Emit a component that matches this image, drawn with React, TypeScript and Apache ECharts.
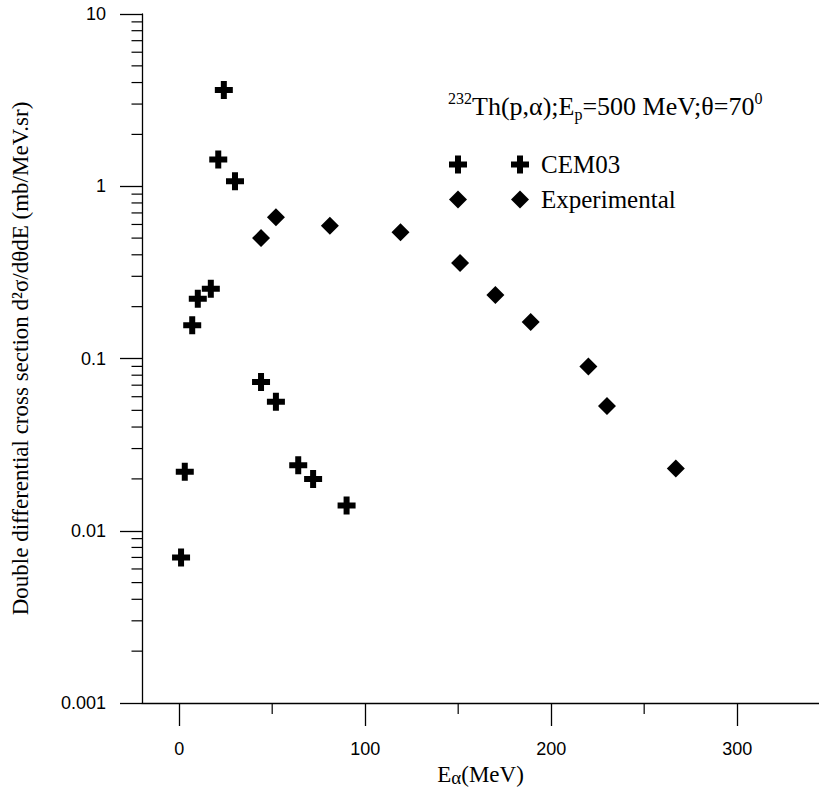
import React, { useEffect, useRef } from 'react';
import * as echarts from 'echarts';

// CEM03 calculation (E_alpha in MeV, cross section in mb/MeV.sr)
const cemEnergy = [1, 3, 7, 10, 17, 21, 24, 30, 44, 52, 64, 72, 90];
const cemSigma = [0.007, 0.022, 0.156, 0.222, 0.254, 1.43, 3.62, 1.07, 0.073, 0.056, 0.024, 0.020, 0.014];

// Experimental data
const expEnergy = [44, 52, 81, 119, 151, 170, 189, 220, 230, 267];
const expSigma = [0.50, 0.66, 0.59, 0.54, 0.358, 0.234, 0.163, 0.090, 0.053, 0.023];

// Axis ticks
const xMajorTicks = [0, 100, 200, 300];
const xMinorTicks = [50, 150, 250];
const yDecades = [0.001, 0.01, 0.1, 1];
const yMinorMultipliers = [2, 3, 4, 5, 6, 7, 8, 9];

const X_MIN = -20;
const X_MAX = 344;
const Y_MIN = 0.001;
const Y_MAX = 10;

const CROSS = 'path://M6,0H12V6H18V12H12V18H6V12H0V6H6Z';
const SERIF = "'Liberation Serif', 'Times New Roman', serif";
const SANS = "'Liberation Sans', Arial, sans-serif";

export default function App() {
  const ref = useRef<HTMLDivElement>(null);

  useEffect(() => {
    if (!ref.current) return;
    const chart = echarts.init(ref.current, undefined, { renderer: 'svg' });

    const yMinor: number[][] = [];
    yDecades.forEach((d) => yMinorMultipliers.forEach((m) => yMinor.push([X_MIN, Number((d * m).toPrecision(3))])));
    const xMinor = xMinorTicks.map((v) => [v, Y_MIN]);

    const legendCommon = {
      orient: 'vertical',
      top: 152,
      padding: 0,
      itemWidth: 18,
      itemHeight: 18,
      itemGap: 10,
      selectedMode: false,
      inactiveColor: '#000',
      data: [
        { name: 'CEM03', icon: CROSS },
        { name: 'Experimental', icon: 'diamond' },
      ],
    };

    const txt = (size: number, extra: any = {}) => ({
      fontSize: size,
      fontFamily: SERIF,
      fontWeight: 'normal',
      color: '#000',
      ...extra,
    });

    chart.setOption({
      animation: false,
      backgroundColor: '#ffffff',
      title: {
        left: 448,
        top: 90,
        padding: 0,
        text: '{sup|232}{n|Th(p,α);E}{sub|p}{n|=500 MeV;θ=70}{sup|0}',
        textStyle: {
          fontWeight: 'normal',
          color: '#000',
          rich: {
            n: txt(26, { lineHeight: 32, verticalAlign: 'middle' }),
            sup: txt(16, { lineHeight: 16, verticalAlign: 'top' }),
            sub: txt(16, { lineHeight: 14, verticalAlign: 'bottom' }),
          },
        },
      },
      legend: [
        {
          ...legendCommon,
          left: 511,
          textStyle: txt(25, { lineHeight: 25, padding: [0, 0, 0, 7] }),
        },
        {
          ...legendCommon,
          left: 449,
          formatter: () => ' ',
          textStyle: txt(25, { lineHeight: 25 }),
        },
      ],
      grid: { left: 142, top: 14, right: 0, bottom: 86, outerBoundsMode: 'none', containLabel: false },
      xAxis: {
        type: 'value',
        min: X_MIN,
        max: X_MAX,
        name: '{n|E}{sub|α}{n|(MeV)}',
        nameLocation: 'middle',
        nameGap: 55,
        nameTextStyle: {
          rich: {
            n: txt(23, { lineHeight: 26, verticalAlign: 'middle' }),
            sub: txt(19, { lineHeight: 12, verticalAlign: 'bottom' }),
          },
        },
        axisLine: { show: true, onZero: false, lineStyle: { color: '#000', width: 1.3 } },
        axisTick: { show: true, length: 23, customValues: xMajorTicks, lineStyle: { color: '#000', width: 1.3 } },
        axisLabel: {
          customValues: xMajorTicks,
          margin: 37,
          fontSize: 18,
          fontFamily: SANS,
          color: '#000',
        },
        splitLine: { show: false },
      },
      yAxis: {
        type: 'log',
        logBase: 10,
        min: Y_MIN,
        max: Y_MAX,
        name: 'Double differential cross section d²σ/dθdE (mb/MeV.sr)',
        nameLocation: 'middle',
        nameGap: 110,
        nameTextStyle: txt(23),
        axisLine: { show: true, onZero: false, lineStyle: { color: '#000', width: 1.3 } },
        axisTick: { show: true, length: 22, lineStyle: { color: '#000', width: 1.3 } },
        axisLabel: {
          margin: 36,
          fontSize: 18,
          fontFamily: SANS,
          color: '#000',
          formatter: (v: number) => String(Number(v.toPrecision(1))),
        },
        splitLine: { show: false },
        minorTick: { show: false },
      },
      series: [
        {
          name: 'CEM03',
          type: 'scatter',
          symbol: CROSS,
          symbolSize: 18,
          itemStyle: { color: '#000', opacity: 1 },
          data: cemEnergy.map((e, i) => [e, cemSigma[i]]),
        },
        {
          name: 'Experimental',
          type: 'scatter',
          symbol: 'diamond',
          symbolSize: 18,
          itemStyle: { color: '#000', opacity: 1 },
          data: expEnergy.map((e, i) => [e, expSigma[i]]),
        },
        {
          name: 'yMinorTicks',
          type: 'custom',
          silent: true,
          clip: false,
          data: yMinor,
          renderItem: (_p: any, api: any) => {
            const pt = api.coord([api.value(0), api.value(1)]);
            return {
              type: 'line',
              shape: { x1: pt[0] - 10.5, y1: pt[1], x2: pt[0], y2: pt[1] },
              style: { stroke: '#000', lineWidth: 1.2 },
            };
          },
        },
        {
          name: 'xMinorTicks',
          type: 'custom',
          silent: true,
          clip: false,
          data: xMinor,
          renderItem: (_p: any, api: any) => {
            const pt = api.coord([api.value(0), api.value(1)]);
            return {
              type: 'line',
              shape: { x1: pt[0], y1: pt[1], x2: pt[0], y2: pt[1] + 11 },
              style: { stroke: '#000', lineWidth: 1.2 },
            };
          },
        },
      ],
    });

    return () => chart.dispose();
  }, []);

  return (
    <div
      ref={ref}
      style={{ position: 'absolute', left: 0, top: 0, width: 819, height: 789, background: '#fff' }}
    />
  );
}
